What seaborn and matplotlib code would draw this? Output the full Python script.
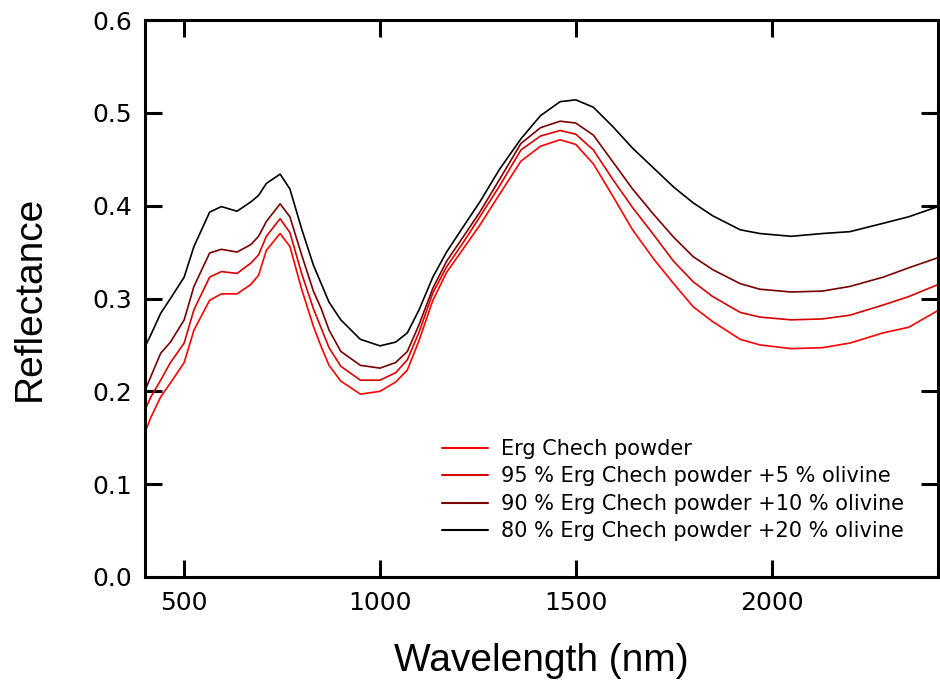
import numpy as np
import pandas as pd
import matplotlib
matplotlib.use("Agg")
import matplotlib.pyplot as plt
import seaborn as sns

# ---------------------------------------------------
# Daten (abgelesen aus dem Referenzbild)
# ---------------------------------------------------
wavelength = [400, 415, 440, 465, 500, 525, 565, 595, 635, 670, 690, 710, 745, 770,
              800, 830, 850, 870, 900, 950, 1000, 1040, 1070, 1100, 1135, 1170, 1220,
              1255, 1305, 1360, 1410, 1460, 1500, 1545, 1595, 1645, 1700, 1750, 1800,
              1850, 1920, 1970, 2050, 2130, 2200, 2285, 2350, 2425]

erg_chech = [0.156, 0.172, 0.194, 0.209, 0.231, 0.266, 0.298, 0.305, 0.305, 0.315, 0.325,
             0.352, 0.370, 0.356, 0.310, 0.270, 0.248, 0.228, 0.211, 0.197, 0.200, 0.210,
             0.223, 0.255, 0.298, 0.328, 0.358, 0.379, 0.412, 0.448, 0.464, 0.471, 0.466,
             0.445, 0.410, 0.374, 0.342, 0.316, 0.291, 0.275, 0.256, 0.250, 0.246, 0.247,
             0.252, 0.263, 0.269, 0.287]

olivine_5 = [0.180, 0.194, 0.212, 0.231, 0.252, 0.288, 0.323, 0.329, 0.327, 0.338, 0.347,
             0.367, 0.386, 0.371, 0.327, 0.289, 0.268, 0.247, 0.227, 0.212, 0.212, 0.220,
             0.234, 0.264, 0.306, 0.334, 0.365, 0.388, 0.421, 0.460, 0.475, 0.481, 0.477,
             0.460, 0.428, 0.398, 0.368, 0.340, 0.318, 0.302, 0.285, 0.280, 0.277, 0.278,
             0.282, 0.293, 0.302, 0.315]

olivine_10 = [0.201, 0.216, 0.241, 0.253, 0.277, 0.313, 0.349, 0.353, 0.350, 0.358, 0.367,
              0.383, 0.402, 0.388, 0.347, 0.308, 0.289, 0.266, 0.243, 0.228, 0.225, 0.231,
              0.243, 0.272, 0.311, 0.340, 0.371, 0.393, 0.428, 0.467, 0.484, 0.491, 0.489,
              0.476, 0.447, 0.418, 0.390, 0.366, 0.345, 0.331, 0.316, 0.310, 0.307, 0.308,
              0.313, 0.323, 0.333, 0.344]

olivine_20 = [0.248, 0.261, 0.284, 0.300, 0.323, 0.356, 0.393, 0.399, 0.394, 0.404, 0.411,
              0.424, 0.434, 0.418, 0.375, 0.336, 0.316, 0.296, 0.277, 0.256, 0.249, 0.253,
              0.263, 0.288, 0.323, 0.350, 0.382, 0.404, 0.439, 0.472, 0.497, 0.512, 0.514,
              0.506, 0.485, 0.462, 0.440, 0.420, 0.403, 0.389, 0.374, 0.370, 0.367, 0.370,
              0.372, 0.381, 0.388, 0.399]

labels = ["Erg Chech powder",
          "95 % Erg Chech powder +5 % olivine",
          "90 % Erg Chech powder +10 % olivine",
          "80 % Erg Chech powder +20 % olivine"]
colors = ["#ff0000", "#d80000", "#780000", "#000000"]

# Long-Format fuer seaborn
df = pd.concat([
    pd.DataFrame({"wavelength": wavelength, "reflectance": vals, "sample": lab})
    for vals, lab in zip([erg_chech, olivine_5, olivine_10, olivine_20], labels)
])

# ---------------------------------------------------
# Plot
# ---------------------------------------------------
sns.set_style("ticks")
plt.rcParams["font.family"] = ["DejaVu Sans"]
plt.rcParams["text.color"] = "black"
plt.rcParams["axes.labelcolor"] = "black"

fig = plt.figure(figsize=(9.4, 6.87), dpi=100)
ax = fig.add_axes([145 / 940, 110 / 687, 793 / 940, 557 / 687])

sns.lineplot(
    data=df, x="wavelength", y="reflectance", hue="sample",
    hue_order=labels, palette=dict(zip(labels, colors)),
    linewidth=1.2, ax=ax, sort=False
)

ax.set_xlim(400, 2425)
ax.set_ylim(0, 0.6)
ax.set_xticks([500, 1000, 1500, 2000])
ax.set_yticks(np.arange(0, 0.61, 0.1))
ax.yaxis.set_major_formatter(matplotlib.ticker.FormatStrFormatter("%.1f"))

for s in ax.spines.values():
    s.set_linewidth(2.2)
    s.set_color("black")
ax.tick_params(axis="both", direction="in", length=12, width=2.2, labelsize=18,
               top=True, right=True, colors="black")
ax.tick_params(axis="x", pad=10)
ax.tick_params(axis="y", pad=9)

ax.set_xlabel("Wavelength (nm)", fontsize=28, family="Liberation Sans")
ax.set_ylabel("Reflectance", fontsize=28, family="Liberation Sans")
ax.xaxis.set_label_coords(0.5, -0.118)
ax.yaxis.set_label_coords(-0.123, 0.5)

leg = ax.legend(loc="upper left", bbox_to_anchor=(0.375, 0.248), frameon=False,
                fontsize=15, handlelength=2.2, handletextpad=0.6,
                labelspacing=0.36, borderpad=0, borderaxespad=0)
for line in leg.get_lines():
    line.set_linewidth(1.5)
for t in leg.get_texts():
    t.set_color("black")

fig.savefig("out.png", dpi=100)
